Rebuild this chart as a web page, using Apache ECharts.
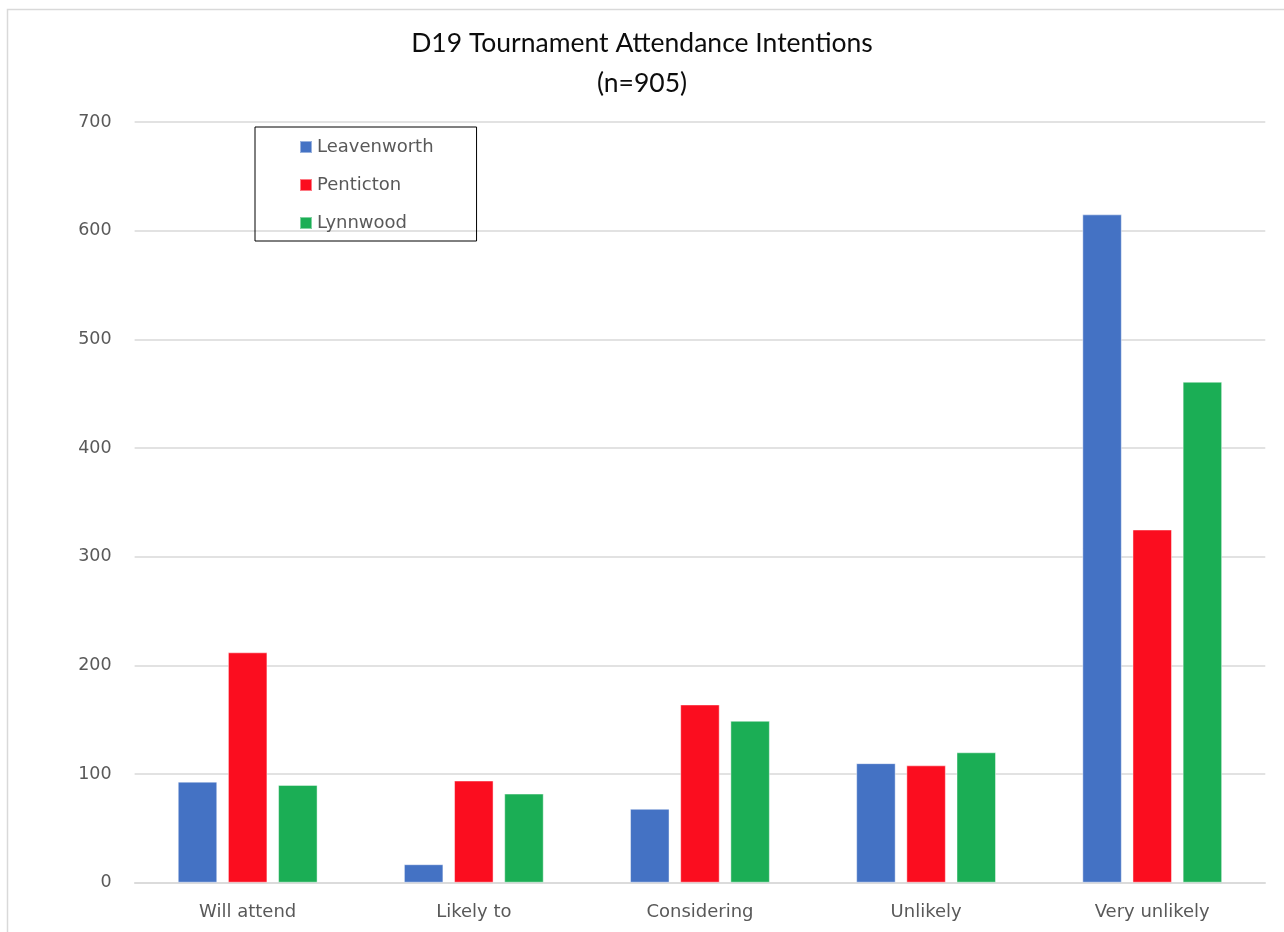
<!DOCTYPE html>
<html>
<head>
<meta charset="utf-8">
<script src="https://cdn.jsdelivr.net/npm/echarts@6/dist/echarts.min.js"></script>
<style>
  html, body { margin: 0; padding: 0; background: #ffffff; }
  #chart { width: 1284px; height: 932px; }
</style>
</head>
<body>
<div id="chart"></div>
<script>
const categories = ['Will attend', 'Likely to', 'Considering', 'Unlikely', 'Very unlikely'];
const seriesNames = ['Leavenworth', 'Penticton', 'Lynnwood'];
const leavenworth = [93, 17, 68, 110, 615];
const penticton = [212, 94, 164, 108, 325];
const lynnwood = [90, 82, 149, 120, 461];
const yTicks = [0, 100, 200, 300, 400, 500, 600, 700];

const colors = ['#4472C4', '#FB0D1F', '#1BAE55'];
const valuesList = [leavenworth, penticton, lynnwood];

const chart = echarts.init(document.getElementById('chart'), null, { renderer: 'canvas' });

const labelFont = 'DejaVu Sans';

chart.setOption({
  animation: false,
  backgroundColor: '#ffffff',
  color: colors,
  graphic: [{
    type: 'rect',
    shape: { x: 7.5, y: 9.5, width: 1300, height: 940 },
    style: { fill: 'none', stroke: '#d9d9d9', lineWidth: 1.5 },
    silent: true,
    z: -10
  }],
  title: {
    text: 'D19 Tournament Attendance Intentions\n(n=905)',
    left: 637,
    top: 18,
    textAlign: 'center',
    textStyle: {
      fontFamily: 'Lato',
      fontSize: 26.5,
      fontWeight: 'normal',
      color: '#0d0d0d',
      lineHeight: 40
    }
  },
  legend: {
    data: seriesNames,
    orient: 'vertical',
    left: 255,
    top: 127,
    itemWidth: 12,
    itemHeight: 12,
    itemGap: 20,
    icon: 'rect',
    padding: [11, 43, 9, 44],
    borderColor: '#000000',
    borderWidth: 1,
    textStyle: {
      fontFamily: labelFont,
      fontSize: 18,
      color: '#595959'
    }
  },
  grid: {
    left: 134.6,
    right: 18.7,
    top: 122,
    bottom: 49.3,
    containLabel: false
  },
  xAxis: {
    type: 'category',
    data: categories,
    axisLine: { show: true, lineStyle: { color: '#d9d9d9', width: 1.5 } },
    axisTick: { show: false },
    axisLabel: {
      fontFamily: labelFont,
      fontSize: 18,
      color: '#595959',
      margin: 21
    }
  },
  yAxis: {
    type: 'value',
    min: yTicks[0],
    max: yTicks[yTicks.length - 1],
    interval: 100,
    axisLine: { show: false },
    axisTick: { show: false },
    splitLine: { show: true, lineStyle: { color: '#d9d9d9', width: 1.5 } },
    axisLabel: {
      fontFamily: labelFont,
      fontSize: 17.5,
      color: '#595959',
      margin: 23
    }
  },
  series: seriesNames.map((name, i) => ({
    name: name,
    type: 'bar',
    data: valuesList[i],
    barWidth: 39.5,
    barGap: '27%',
    itemStyle: {
      color: colors[i],
      borderColor: 'rgba(255,255,255,0.45)',
      borderWidth: 1
    }
  }))
});
</script>
</body>
</html>
